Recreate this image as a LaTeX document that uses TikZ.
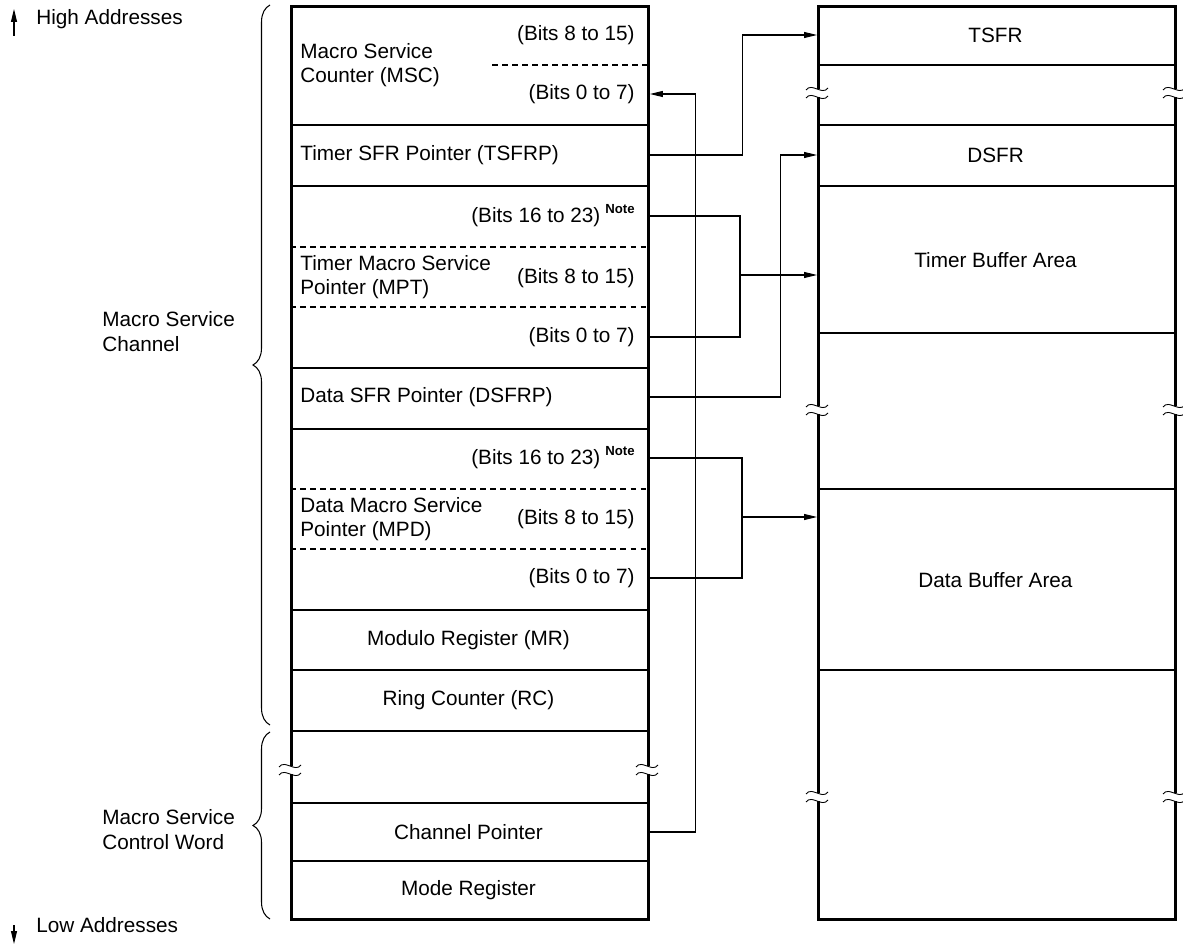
\documentclass[tikz,border=0pt]{standalone}
\usepackage{fontspec}
\setmainfont{Liberation Sans}
\usetikzlibrary{arrows.meta,decorations.pathreplacing,calc}

\begin{document}
\begin{tikzpicture}[
    x=0.02cm, y=-0.02cm,
    every node/.style={font=\fontsize{11.8}{12.8}\selectfont, inner sep=0pt},
    memblock/.style={draw=black, line width=1.7pt, minimum width=7.14cm, minimum height=18.26cm, anchor=north west, inner sep=0pt},
    rowline/.style={line width=0.6pt},
    dashline/.style={line width=0.6pt, dash pattern=on 3.3pt off 2.4pt},
    lefttext/.style={anchor=west, align=left, font=\fontsize{11.8}{13.4}\selectfont},
    bits/.style={anchor=east},
    sidetext/.style={anchor=west, align=left, font=\fontsize{11.8}{14.2}\selectfont},
    conn/.style={line width=0.6pt},
    arrow/.style={conn, -{Triangle[length=2.6mm, width=1.2mm]}},
    groupbrace/.style={decorate, decoration={brace, amplitude=0.34cm}, line width=0.6pt},
    brk/.pic={
        \fill[white] (-2.6,-4) rectangle (2.6,4);
        \draw[line width=0.5pt] (-11,-3) .. controls (-5,-11) and (5,3) .. (11,-5);
        \draw[line width=0.5pt] (-11,5) .. controls (-5,-3) and (5,11) .. (11,3);
    }
]
    \useasboundingbox (0,0) rectangle (1183,945);

    \node [memblock] (chn) at (290,5) {};
    \node [memblock] (mem) at (817,5) {};

    \foreach \y in {125,186,368,429,610,670,731,803,861}
        \draw [rowline] (290,\y) -- (647,\y);
    \foreach \y in {247,307,489,549}
        \draw [dashline] (290,\y) -- (647,\y);
    \draw [dashline] (492,65) -- (647,65);
    \foreach \y in {65,125,186,333,489,670}
        \draw [rowline] (817,\y) -- (1174,\y);

    \foreach \x/\y in {290/770, 647/770, 817/93, 1174/93, 817/410, 1174/410, 817/797, 1174/797}
        \pic at (\x,\y) {brk};

    \node [lefttext] (msc) at (300,65) {Macro Service\\Counter (MSC)};
    \node [bits] (mschi) at (635,35) {(Bits 8 to 15)};
    \node [bits] (msclo) at (635,94) {(Bits 0 to 7)};
    \node [lefttext] (tsfrp) at (300,155) {Timer SFR Pointer (TSFRP)};
    \node [lefttext] (mpt) at (300,277) {Timer Macro Service\\Pointer (MPT)};
    \node [bits] (mpthi) at (635,216) {(Bits 16 to 23)\hspace{0.1cm}\raisebox{5pt}{\fontsize{7.5}{8}\selectfont\bfseries Note}};
    \node [bits] (mptmid) at (635,278) {(Bits 8 to 15)};
    \node [bits] (mptlo) at (635,337) {(Bits 0 to 7)};
    \node [lefttext] (dsfrp) at (300,397) {Data SFR Pointer (DSFRP)};
    \node [lefttext] (mpd) at (300,519) {Data Macro Service\\Pointer (MPD)};
    \node [bits] (mpdhi) at (635,458) {(Bits 16 to 23)\hspace{0.1cm}\raisebox{5pt}{\fontsize{7.5}{8}\selectfont\bfseries Note}};
    \node [bits] (mpdmid) at (635,519) {(Bits 8 to 15)};
    \node [bits] (mpdlo) at (635,578) {(Bits 0 to 7)};
    \node (mr) at (468.5,640) {Modulo Register (MR)};
    \node (rc) at (468.5,700) {Ring Counter (RC)};
    \node (cp) at (468.5,832) {Channel Pointer};
    \node (mode) at (468.5,890) {Mode Register};

    \node (tsfr) at (995.5,35) {TSFR};
    \node (dsfr) at (995.5,155) {DSFR};
    \node (tba) at (995.5,260) {Timer Buffer Area};
    \node (dba) at (995.5,580) {Data Buffer Area};

    \draw [groupbrace] (270,725) -- (270,5);
    \draw [groupbrace] (270,919) -- (270,732);
    \node [sidetext] (chlabel) at (102,332) {Macro Service\\Channel};
    \node [sidetext] (cwlabel) at (102,830) {Macro Service\\Control Word};

    \coordinate (hightail) at (14,36);
    \coordinate (hightip) at (14,9);
    \coordinate (lowtail) at (14,925);
    \coordinate (lowtip) at (14,944);
    \draw [arrow] (hightail) -- (hightip);
    \draw [arrow] (lowtail) -- (lowtip);
    \node [anchor=west] (high) at (36,19) {High Addresses};
    \node [anchor=west] (low) at (36,925) {Low Addresses};

    \draw [arrow] (cp -| chn.east) -- ++(46,0) |- (msclo -| chn.east);
    \draw [arrow] (tsfrp -| chn.east) -- ++(93,0) |- (tsfr -| mem.west);
    \draw [arrow] (dsfrp -| chn.east) -- ++(131,0) |- (dsfr -| mem.west);

    \coordinate (mptj) at (740,275);
    \draw [conn] (mpthi -| chn.east) -| (mptj) |- (mptlo -| chn.east);
    \draw [arrow] (mptj) -- (mptj -| mem.west);
    \coordinate (mpdj) at (742,517);
    \draw [conn] (mpdhi -| chn.east) -| (mpdj) |- (mpdlo -| chn.east);
    \draw [arrow] (mpdj) -- (mpdj -| mem.west);
\end{tikzpicture}
\end{document}
